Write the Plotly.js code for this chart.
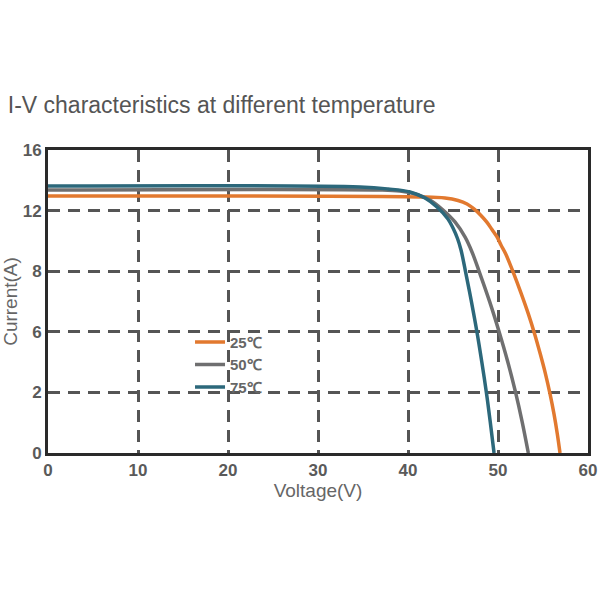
<!DOCTYPE html>
<html>
<head>
<meta charset="utf-8">
<script src="https://cdn.plot.ly/plotly-3.0.1.min.js"></script>
<style>
  html, body { margin: 0; padding: 0; background: #ffffff; }
  #chart { width: 600px; height: 600px; }
</style>
</head>
<body>
<div id="chart"></div>
<script>
// Tick labels on the current axis: six evenly spaced gridlines carry these values
const currentTickLabels = [0, 2, 6, 8, 12, 16];
const voltageTicks = [0, 10, 20, 30, 40, 50, 60];

// I-V curves, voltage in V and current in A
const voltage25 = [0, 41.33, 44.11, 45.56, 46.56, 47.33, 48.11, 48.78, 49.33, 49.89, 50.33, 50.86, 51.76, 52.59, 53.37, 54.07, 54.70, 55.28, 55.78, 56.22, 56.59, 56.89];
const current25 = [12.96, 12.90, 12.83, 12.67, 12.44, 12.11, 11.68, 11.22, 10.75, 10.26, 9.73, 9.14, 7.91, 7.25, 6.59, 5.86, 4.53, 3.21, 1.95, 1.29, 0.63, 0];

const voltage50 = [0, 36.89, 39.11, 40.78, 42.44, 43.89, 45.22, 46.33, 47.11, 47.89, 49.09, 50.13, 51.09, 51.94, 52.69, 53.37];
const current50 = [13.36, 13.36, 13.29, 13.10, 12.70, 12.04, 11.25, 10.26, 9.27, 8.01, 6.98, 5.99, 4.01, 2.03, 1.02, 0];

const voltage75 = [0, 34.67, 37.78, 40.22, 41.89, 43.22, 44.44, 45.0, 45.5, 45.89, 46.38, 47.03, 47.66, 48.2, 48.7, 49.14, 49.56];
const current75 = [13.62, 13.56, 13.43, 13.23, 12.83, 12.24, 11.45, 10.85, 10.16, 9.40, 8.01, 7.02, 5.99, 4.01, 2.03, 1.02, 0];

const seriesNames = ['25\u2103', '50\u2103', '75\u2103'];
const seriesColors = ['#e2792f', '#6f6f70', '#2c687b'];

// The current axis is labelled piecewise: map a current onto its gridline index
function currentToGrid(a) {
  const t = currentTickLabels;
  for (let i = 0; i < t.length - 1; i++) {
    if (a <= t[i + 1]) return i + (a - t[i]) / (t[i + 1] - t[i]);
  }
  return t.length - 1 + (a - t[t.length - 1]) / (t[t.length - 1] - t[t.length - 2]);
}

const xs = [voltage25, voltage50, voltage75];
const ys = [current25, current50, current75];

const traces = xs.map((x, i) => ({
  type: 'scatter',
  mode: 'lines',
  name: seriesNames[i],
  x: x,
  y: ys[i].map(currentToGrid),
  line: { color: seriesColors[i], width: 3.5, shape: 'spline', smoothing: 1 },
  hoverinfo: 'skip'
}));

const tickFont = { family: '"Liberation Sans Narrow", "Liberation Sans", Arial, sans-serif', size: 17, color: '#5a5a5a', weight: 'bold' };
const axisTitleFont = { family: '"Liberation Sans", Arial, sans-serif', size: 19, color: '#666666' };
const gridStyle = { showgrid: true, gridcolor: '#555555', gridwidth: 3, griddash: '12px,8px' };

const layout = {
  width: 600,
  height: 600,
  paper_bgcolor: '#ffffff',
  plot_bgcolor: '#ffffff',
  margin: { l: 48, r: 12, t: 150, b: 147 },
  title: {
    text: 'I-V characteristics at different temperature',
    x: 0.013, xanchor: 'left', xref: 'container',
    y: 0.825, yanchor: 'middle', yref: 'container',
    font: { family: '"Liberation Sans", Arial, sans-serif', size: 23, color: '#555555' }
  },
  xaxis: Object.assign({
    range: [0, 60],
    tickvals: voltageTicks,
    ticks: '',
    tickfont: tickFont,
    showline: true, linecolor: '#2a2a2a', linewidth: 3, mirror: true,
    zeroline: false,
    title: { text: 'Voltage(V)', standoff: 4, font: axisTitleFont }
  }, gridStyle),
  yaxis: Object.assign({
    range: [0, 5],
    tickvals: currentTickLabels.map((v, i) => i),
    ticktext: currentTickLabels.map(String),
    ticks: '',
    tickfont: tickFont,
    showline: true, linecolor: '#2a2a2a', linewidth: 3, mirror: true,
    zeroline: false,
    title: { text: 'Current(A)', standoff: 5, font: axisTitleFont }
  }, gridStyle),
  showlegend: true,
  legend: {
    x: 0.263, xanchor: 'left',
    y: 0.42, yanchor: 'top',
    bgcolor: 'rgba(0,0,0,0)',
    borderwidth: 0,
    tracegroupgap: 0,
    font: { family: '"Liberation Sans", Arial, sans-serif', size: 15, color: '#666666', weight: 'bold' }
  }
};

Plotly.newPlot('chart', traces, layout, { staticPlot: true, displayModeBar: false });
</script>
</body>
</html>
